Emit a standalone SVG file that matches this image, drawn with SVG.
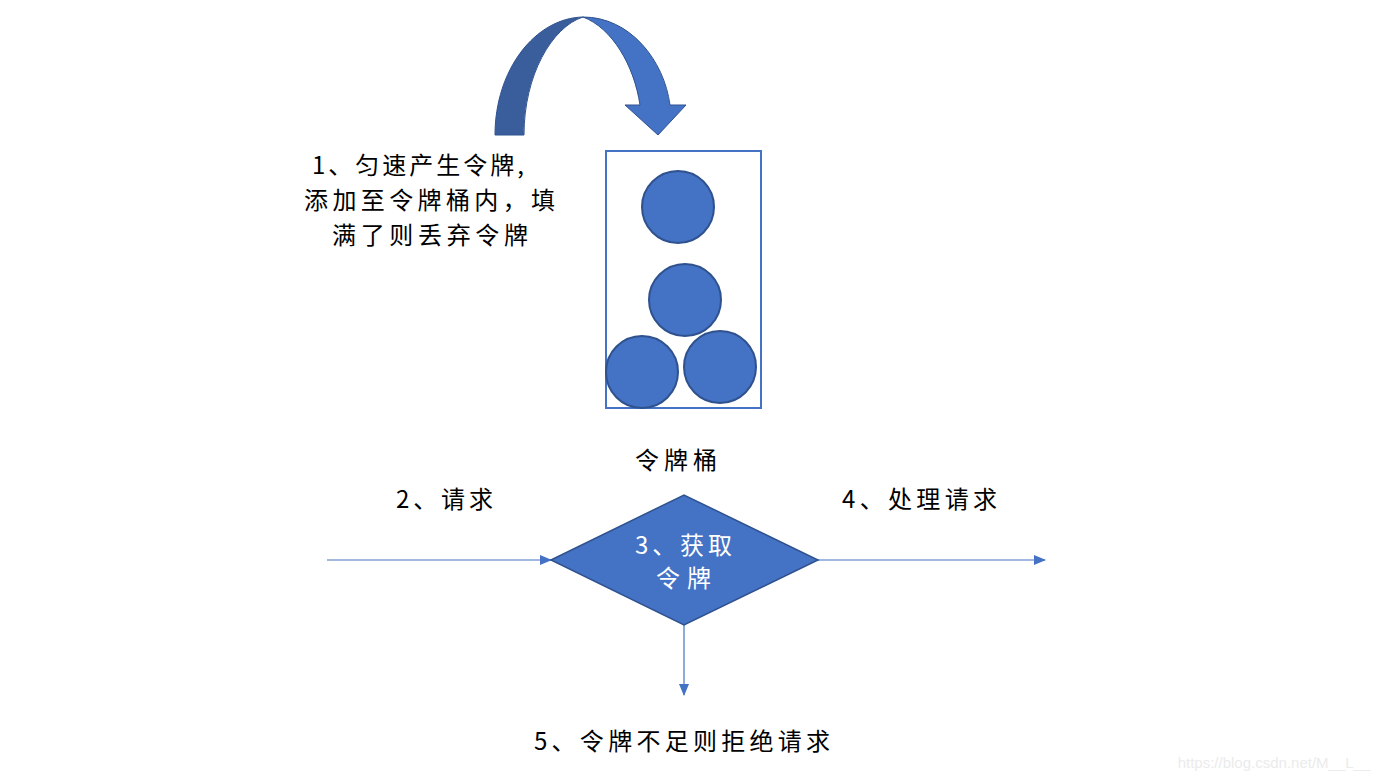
<svg xmlns="http://www.w3.org/2000/svg" width="1385" height="780" viewBox="0 0 1385 780">
<defs>
<style>
.t{font-family:"Noto Sans CJK SC","Liberation Sans",sans-serif;font-size:24px;fill:#000}
.w{fill:#fff}
.tok{fill:#4472C4;stroke:#2F528F;stroke-width:2}
.ln{stroke:#4472C4;stroke-width:1.2;fill:none}
</style>
<marker id="ah" markerWidth="12" markerHeight="10" refX="11" refY="5" orient="auto" markerUnits="userSpaceOnUse">
<path d="M0,0 L12,5 L0,10 Z" fill="#4472C4"/>
</marker>
</defs>
<rect width="1385" height="780" fill="#fff"/>
<g id="curved-arrow">
<path d="M495,135 C495,70 535,18 583,17 C552,27 524,75 524,135 Z" fill="#3A5D9C" stroke="#2F528F" stroke-width="1"/>
<path d="M583,17 C630,17 664,60 670,105 L686,105 L658,135 L625,105 L640,105 C634,65 612,28 583,17 Z" fill="#4472C4" stroke="#2F528F" stroke-width="1"/>
</g>
<g id="step1-label">
<text class="t" x="312" y="174" textLength="212" lengthAdjust="spacing">1、匀速产生令牌,</text>
<text class="t" x="304" y="209" textLength="251" lengthAdjust="spacing">添加至令牌桶内，填</text>
<text class="t" x="332" y="244" textLength="196" lengthAdjust="spacing">满了则丢弃令牌</text>
</g>
<g id="bucket">
<rect x="606" y="151" width="155" height="257" fill="none" stroke="#4472C4" stroke-width="2"/>
<circle class="tok" cx="678" cy="207" r="36"/>
<circle class="tok" cx="685" cy="300" r="36"/>
<circle class="tok" cx="642" cy="372" r="36"/>
<circle class="tok" cx="720" cy="367" r="36"/>
<text class="t" x="635" y="469" textLength="82" lengthAdjust="spacing">令牌桶</text>
</g>
<g id="connectors">
<line class="ln" x1="327" y1="560" x2="551" y2="560" marker-end="url(#ah)"/>
<line class="ln" x1="818" y1="560" x2="1045" y2="560" marker-end="url(#ah)"/>
<line class="ln" x1="684" y1="625" x2="684" y2="695" marker-end="url(#ah)"/>
</g>
<g id="decision">
<polygon points="551,560 684,495 818,560 684,625" fill="#4472C4" stroke="#2F528F" stroke-width="1.5"/>
<text class="t w" x="635" y="554" textLength="97" lengthAdjust="spacing">3、获取</text>
<text class="t w" x="656" y="587" textLength="55" lengthAdjust="spacing">令牌</text>
</g>
<g id="step2-label"><text class="t" x="396" y="508" textLength="97" lengthAdjust="spacing">2、请求</text></g>
<g id="step4-label"><text class="t" x="842" y="508" textLength="155" lengthAdjust="spacing">4、处理请求</text></g>
<g id="step5-label"><text class="t" x="534" y="750" textLength="296" lengthAdjust="spacing">5、令牌不足则拒绝请求</text></g>
<text x="1274" y="768" font-family="Liberation Sans, sans-serif" font-size="15" fill="#EBEBEB" text-anchor="middle">https://blog.csdn.net/M__L__</text>
</svg>
